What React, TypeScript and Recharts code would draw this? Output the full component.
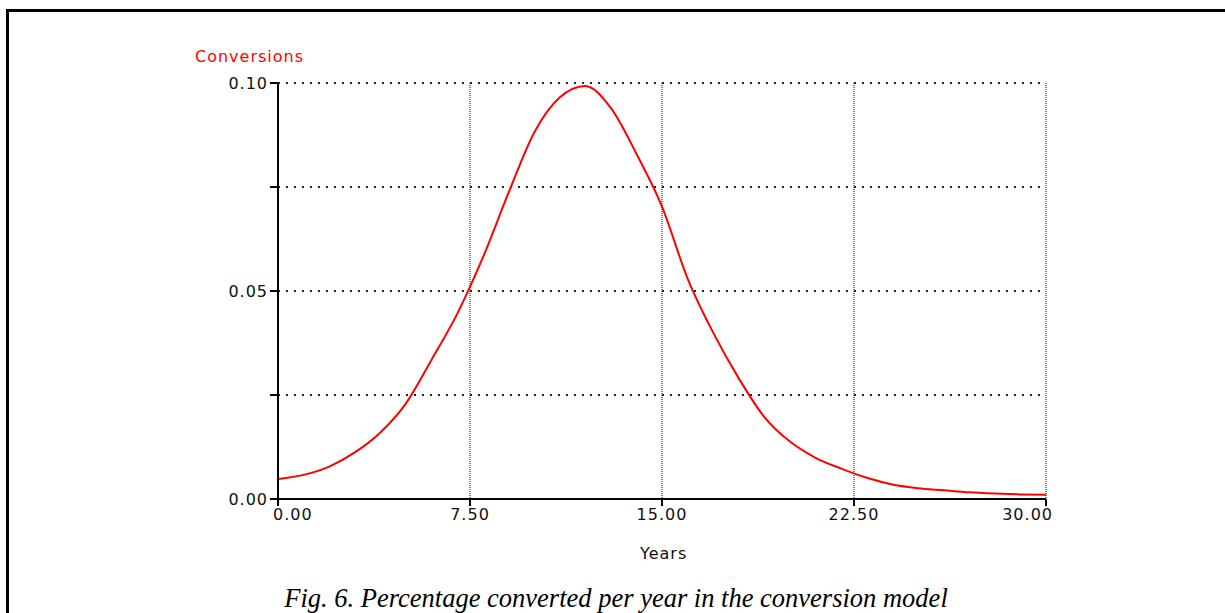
import { LineChart, Line, XAxis, YAxis, CartesianGrid } from 'recharts';

const years = [
  0, 1, 2, 3, 4, 5, 6, 7, 8, 9, 10, 11, 12, 13, 14, 15, 16, 17, 18, 19, 20, 21, 22, 23, 24, 25, 26,
  27, 28, 29, 30,
];
const conversions = [
  0.0048, 0.0058, 0.0078, 0.0112, 0.016, 0.023, 0.0335, 0.0445, 0.058, 0.0735, 0.088, 0.0965,
  0.0993, 0.094, 0.083, 0.0703, 0.053, 0.04, 0.029, 0.0197, 0.0138, 0.0099, 0.0073, 0.0051, 0.0035,
  0.0026, 0.0021, 0.0016, 0.0013, 0.0011, 0.001,
];
const xTicks = [0, 7.5, 15, 22.5, 30];
const yTicks = [0, 0.025, 0.05, 0.075, 0.1];
const yLabelled = [0, 0.05, 0.1];

const data = years.map((t, i) => ({ t, v: conversions[i] }));

const FONT = '"DejaVu Sans", sans-serif';

function XTick(props: any) {
  const { x, y, payload, index } = props;
  let anchor = 'middle';
  let dx = 0;
  if (index === 0) {
    anchor = 'start';
    dx = -5;
  } else if (index === xTicks.length - 1) {
    anchor = 'end';
    dx = 7;
  }
  return (
    <text
      x={x + dx}
      y={y}
      dy="0.71em"
      textAnchor={anchor}
      fill="#111"
      fontSize={16}
      fontFamily={FONT}
      letterSpacing={1}
    >
      {payload.value.toFixed(2)}
    </text>
  );
}

function YTick(props: any) {
  const { x, y, payload } = props;
  if (!yLabelled.some((v) => Math.abs(v - payload.value) < 1e-9)) return <g />;
  return (
    <text
      x={x}
      y={y}
      dy="0.36em"
      textAnchor="end"
      fill="#111"
      fontSize={16}
      fontFamily={FONT}
      letterSpacing={1}
    >
      {payload.value.toFixed(2)}
    </text>
  );
}

export default function App() {
  return (
    <div
      style={{
        position: 'absolute',
        left: 0,
        top: 0,
        width: 1225,
        height: 613,
        background: '#fff',
        overflow: 'hidden',
      }}
    >
      <div
        style={{
          position: 'absolute',
          left: 6,
          top: 9,
          width: 1240,
          height: 620,
          borderTop: '3px solid #000',
          borderLeft: '3px solid #000',
        }}
      />
      <div
        style={{
          position: 'absolute',
          left: 195,
          top: 47,
          color: '#ff0000',
          fontFamily: FONT,
          fontSize: 16,
          letterSpacing: 1,
        }}
      >
        Conversions
      </div>
      <div style={{ position: 'absolute', left: 0, top: 0 }}>
        <LineChart
          width={1225}
          height={613}
          data={data}
          margin={{ top: 83, right: 179, bottom: 74, left: 198 }}
        >
          <CartesianGrid horizontal={false} stroke="#000" strokeDasharray="1 1" />
          <CartesianGrid vertical={false} stroke="#222" strokeWidth={2} strokeDasharray="2 6" />
          <XAxis
            dataKey="t"
            type="number"
            domain={[0, 30]}
            ticks={xTicks}
            interval={0}
            height={40}
            tickSize={7}
            tickMargin={3}
            stroke="#000"
            strokeWidth={2}
            tick={<XTick />}
          />
          <YAxis
            type="number"
            domain={[0, 0.1]}
            ticks={yTicks}
            interval={0}
            width={80}
            tickSize={8}
            tickMargin={2}
            stroke="#000"
            strokeWidth={2}
            tick={<YTick />}
          />
          <Line
            type="monotone"
            dataKey="v"
            stroke="#ff0000"
            strokeWidth={2}
            dot={false}
            isAnimationActive={false}
          />
        </LineChart>
      </div>
      <div
        style={{
          position: 'absolute',
          left: 640,
          top: 544,
          fontFamily: FONT,
          fontSize: 16,
          letterSpacing: 1,
          color: '#111',
        }}
      >
        Years
      </div>
      <div
        style={{
          position: 'absolute',
          left: 0,
          width: 1232,
          top: 583,
          textAlign: 'center',
          fontFamily: '"Liberation Serif", "Times New Roman", serif',
          fontStyle: 'italic',
          fontSize: 26.5,
          color: '#000',
          whiteSpace: 'nowrap',
        }}
      >
        Fig. 6. Percentage converted per year in the conversion model
      </div>
    </div>
  );
}
